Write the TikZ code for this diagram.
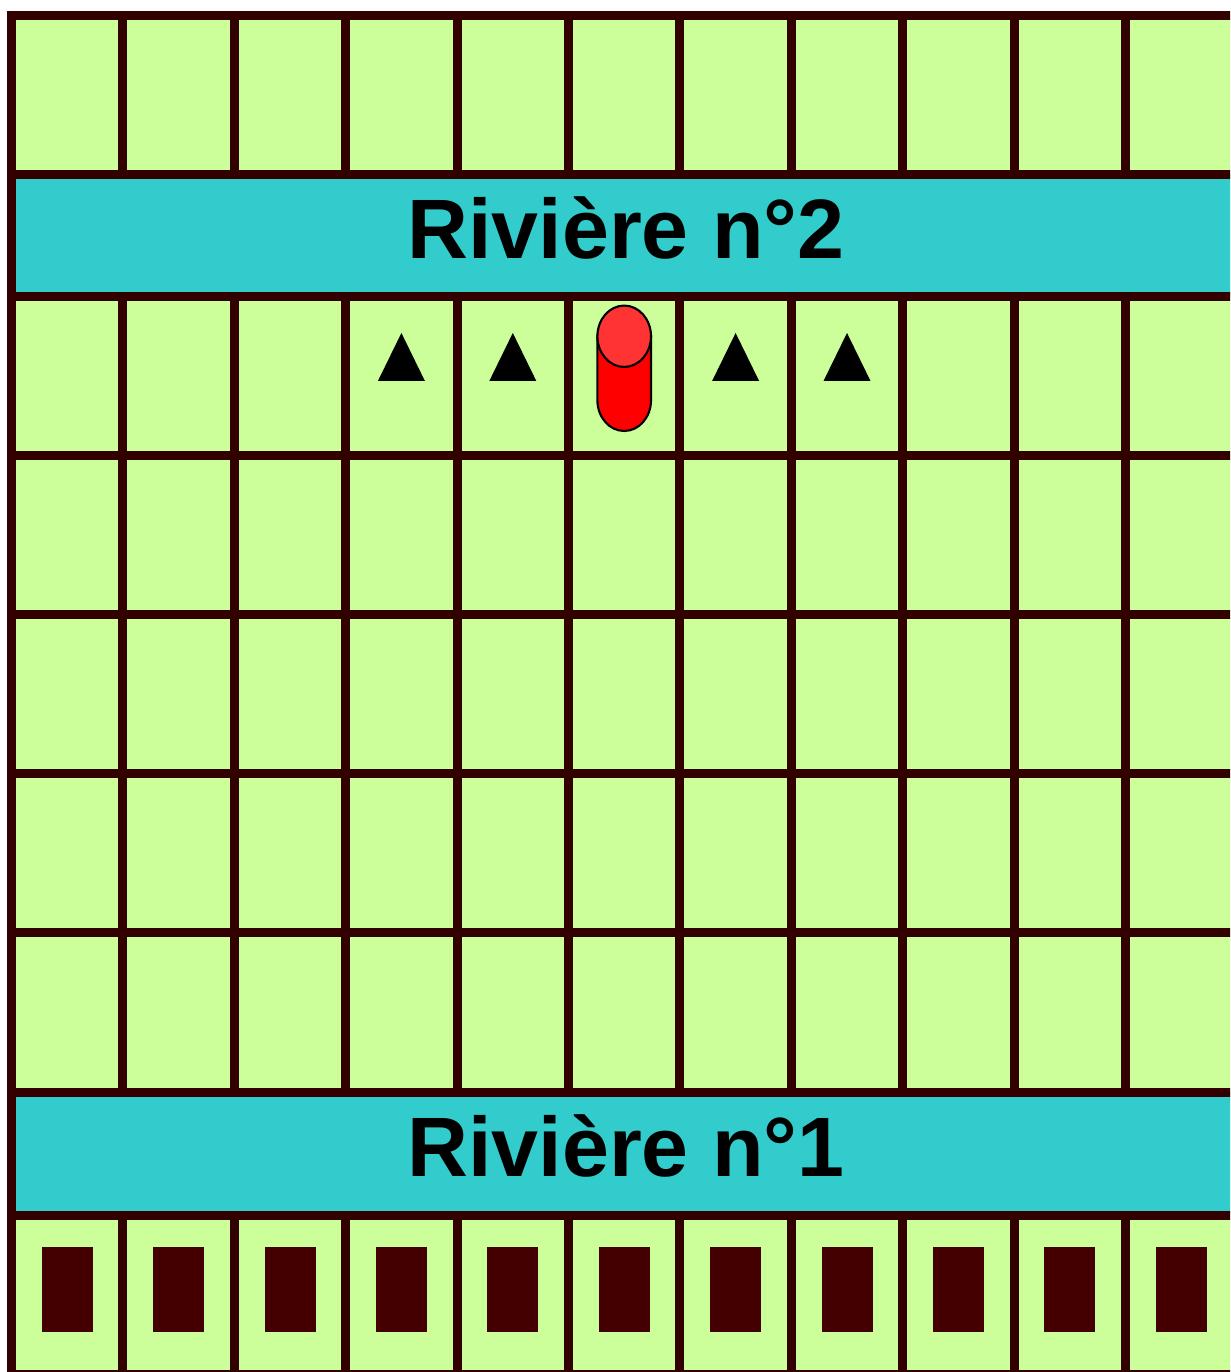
\documentclass[tikz,border=0pt]{standalone}
\usepackage{fontspec}
\setsansfont{Liberation Sans}
\usepackage{tikz}
\definecolor{herbe}{HTML}{CCFF99}
\definecolor{riviere}{HTML}{33CCCC}
\definecolor{trait}{HTML}{330000}
\definecolor{brique}{HTML}{440000}
\definecolor{pion}{HTML}{FF0000}
\definecolor{pionhaut}{HTML}{FF3333}
\newcommand{\cx}[1]{0.115+1.114*(#1)}
\tikzset{
  grille/.style={trait, line width=0.09cm, line cap=rect},
  titre/.style={font=\sffamily\bfseries\fontsize{24}{24}\selectfont, anchor=base}
}

\begin{document}
\begin{tikzpicture}
		\useasboundingbox (0,0) rectangle (12.3,13.72);
		\clip (0,0) rectangle (12.3,13.72);
		
		\fill[herbe] (0.115,-0.025) rectangle (12.5,13.565);
		\fill[riviere] (0.115,10.755) rectangle (12.5,11.975);
		\fill[riviere] (0.115,1.565) rectangle (12.5,2.795);
		
		\draw(6.26,11.137) node[titre] (riv2) {Rivière n°2};
		\draw(6.26,1.953) node[titre] (riv1) {Rivière n°1};
		
		% grille
		\foreach \y in {13.565,11.975,10.755,9.165,7.575,5.985,4.395,2.795,1.565,-0.025}
			\draw[grille] (0.115,\y) -- (12.5,\y);
		\foreach \i in {0,...,11} {
			\draw[grille] ({\cx{\i}},11.975) -- ({\cx{\i}},13.565);
			\draw[grille] ({\cx{\i}},2.795) -- ({\cx{\i}},10.755);
			\draw[grille] ({\cx{\i}},-0.025) -- ({\cx{\i}},1.565);
		}
		\draw[grille] (0.115,-0.025) -- (0.115,13.565);
		
		% obstacles
		\foreach \i in {3,4,6,7}
			\fill ({\cx{\i+0.5}},10.39) -- ({\cx{\i+0.5}-0.235},9.91) -- ({\cx{\i+0.5}+0.235},9.91) -- cycle;
		
		% pion
		\draw[fill=pion, line width=0.6pt] (5.974,10.357) -- (5.974,9.717) arc (180:360:0.268 and 0.307) -- (6.51,10.357) -- cycle;
		\draw[fill=pionhaut, line width=0.6pt] (6.242,10.357) ellipse (0.268 and 0.307);
		
		% briques
		\foreach \i in {0,...,10}
			\fill[brique] ({\cx{\i+0.5}-0.255},0.4) rectangle ({\cx{\i+0.5}+0.255},1.25);
	\end{tikzpicture}
\end{document}
